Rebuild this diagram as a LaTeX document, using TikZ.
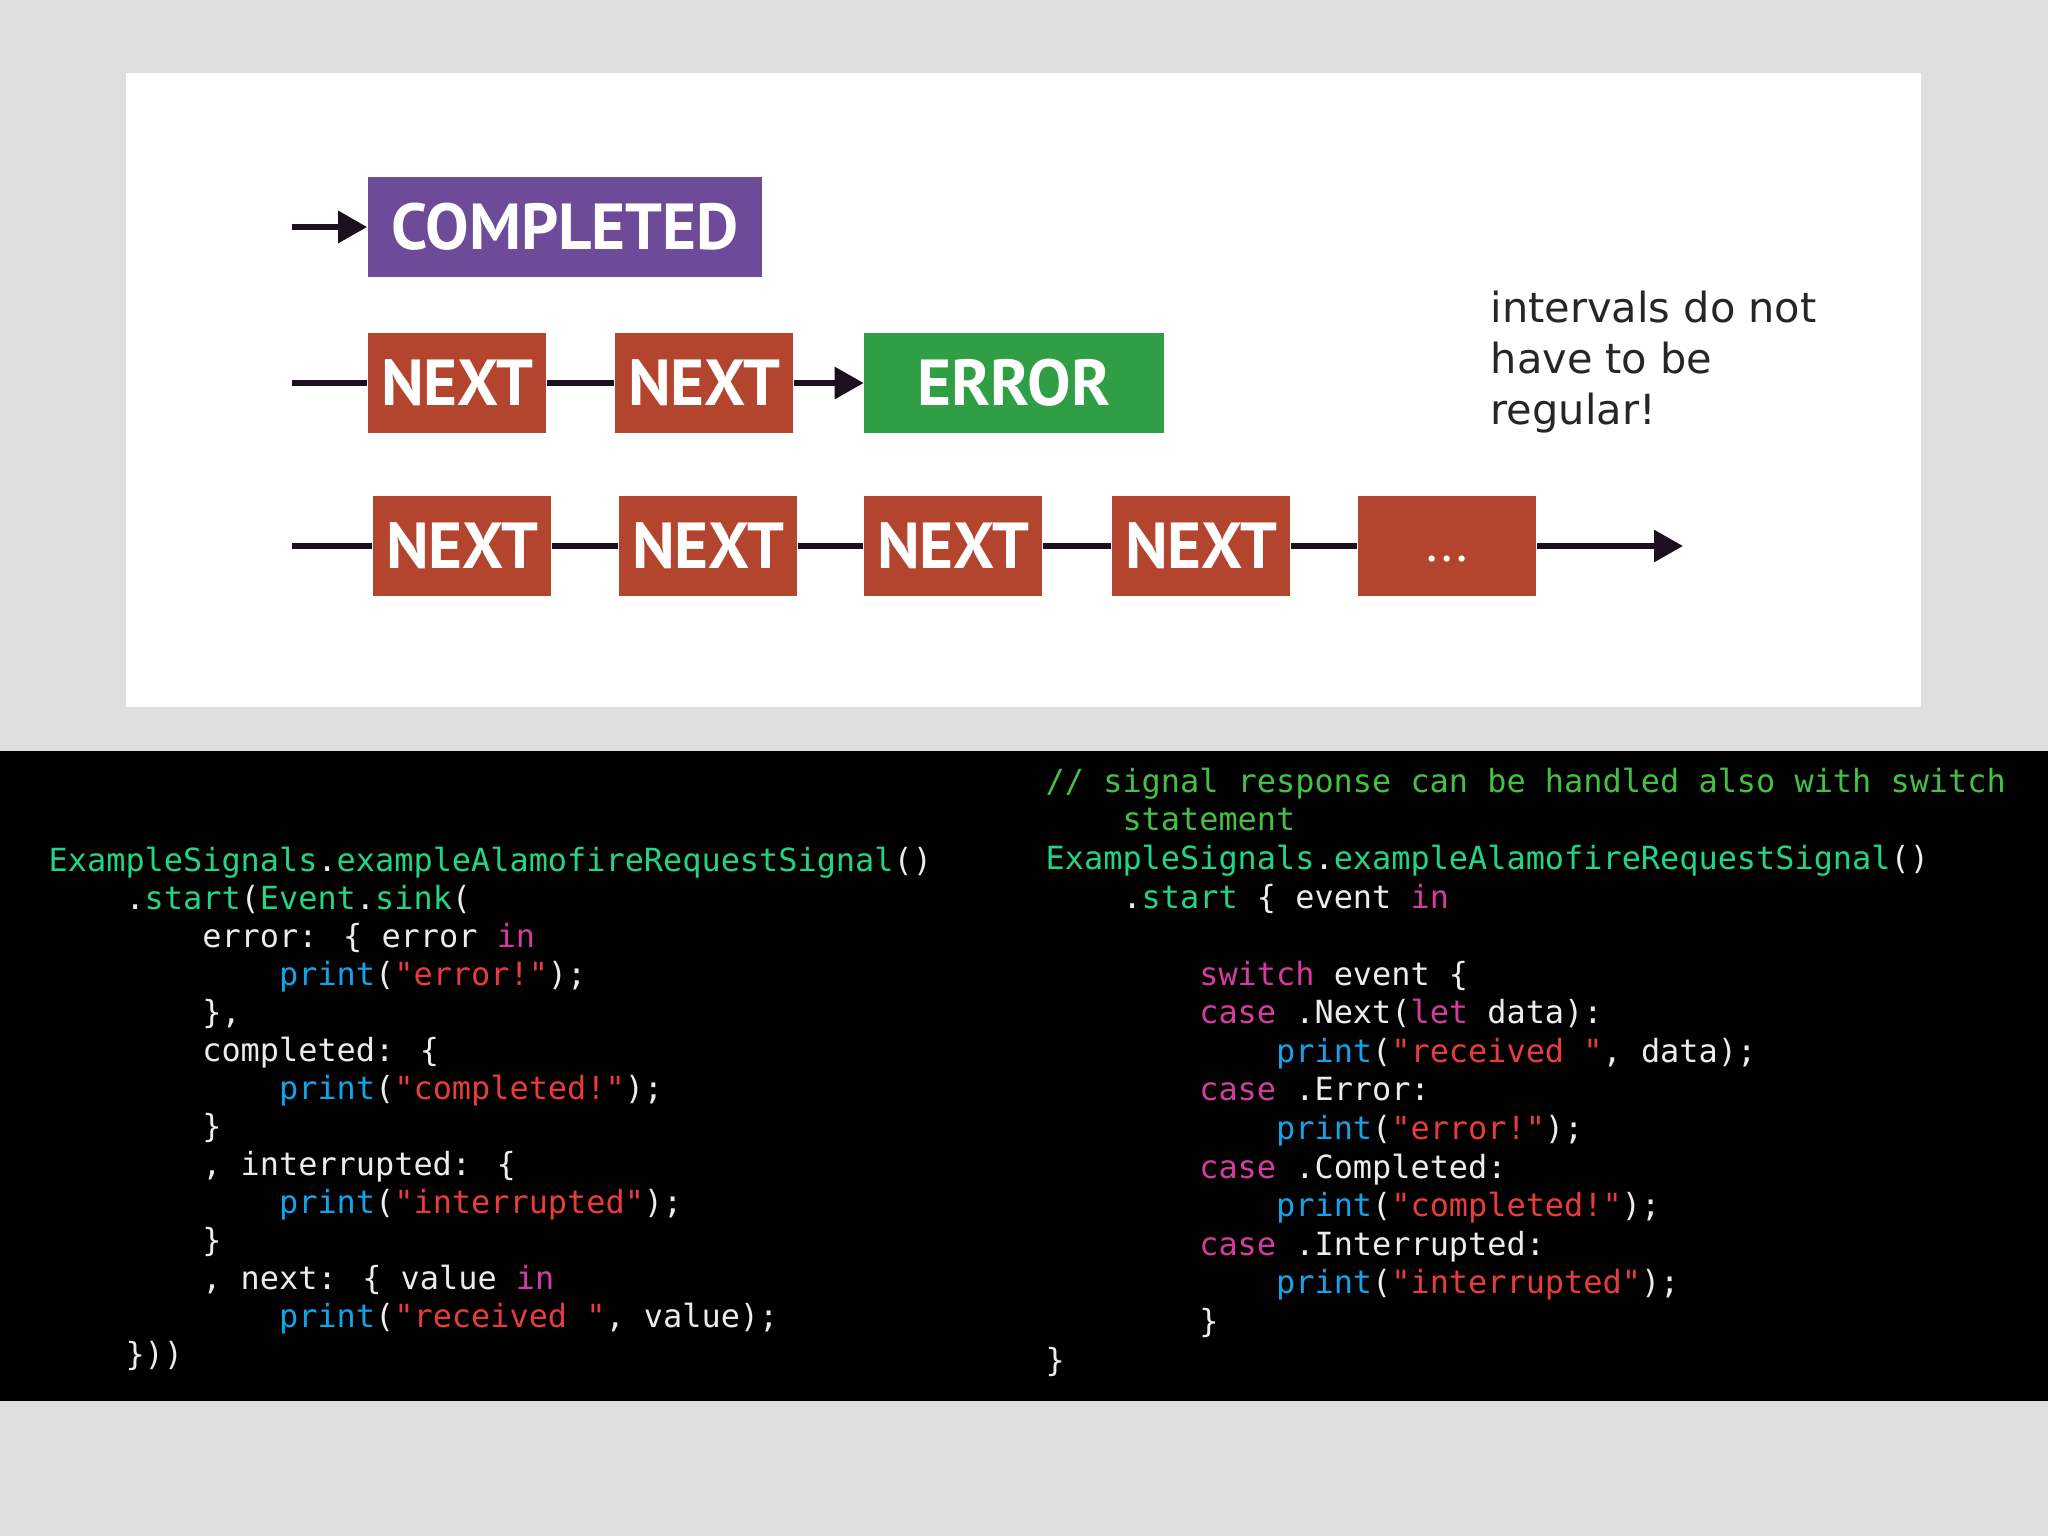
\documentclass[tikz,border=0pt]{standalone}
\usepackage{fontspec}
\newfontfamily\codefont{DejaVu Sans Mono}
\newfontfamily\notefont{DejaVu Sans}
\newfontfamily\boxfont{PT Sans}
\usepackage{xcolor}
\definecolor{fondoGris}{HTML}{DEDEDE}
\definecolor{linea}{HTML}{1C1020}
\definecolor{evPurple}{HTML}{6E4B99}
\definecolor{evRed}{HTML}{B3452F}
\definecolor{evGreen}{HTML}{2F9E45}
\definecolor{codeWhite}{HTML}{ECECEC}
\definecolor{codeGreen}{HTML}{22D585}
\definecolor{codeCmt}{HTML}{45BF45}
\definecolor{codeKw}{HTML}{D23C9E}
\definecolor{codeFn}{HTML}{14A2E8}
\definecolor{codeStr}{HTML}{E63C3C}
\newcommand{\pad}[1]{\hspace*{#1\fontcharwd\font`0}}
\newcommand{\clr}[1]{\textcolor{codeGreen}{#1}}
\newcommand{\cmt}[1]{\textcolor{codeCmt}{#1}}
\newcommand{\kw}[1]{\textcolor{codeKw}{#1}}
\newcommand{\fn}[1]{\textcolor{codeFn}{#1}}
\newcommand{\str}[1]{\textcolor{codeStr}{#1}}
\usetikzlibrary{arrows.meta,positioning}

\begin{document}
\begin{tikzpicture}[x=0.01cm,y=-0.01cm,
 ev/.style={inner sep=0pt,minimum height=0.99cm,text=white,
 font=\boxfont\bfseries\fontsize{18.5}{22}\selectfont},
 nxt/.style={ev,fill=evRed,minimum width=1.78cm},
 code/.style={inner sep=0pt,anchor=base west,align=left,text=codeWhite},
 wire/.style={draw=linea,line width=1.7pt},
 arr/.style={wire,-{Triangle[length=2.9mm,width=3.1mm]}}]
 \useasboundingbox (0,0) rectangle (2048,1536);
 \fill[fondoGris] (0,0) rectangle (2048,1536);
 \fill[white] (126,73) rectangle (1921,707);
 \fill[black] (0,751) rectangle (2048,1401);
 % event streams
 \node[ev,fill=evPurple,minimum width=3.94cm] (completed) at (565,227) {COMPLETED};
 \node[nxt] (a1) at (457,383) {NEXT};
 \node[nxt] (a2) at (704,383) {NEXT};
 \node[ev,fill=evGreen,minimum width=2.99cm] (err) at (1014,383) {ERROR};
 \node[nxt] (b1) at (462,546) {NEXT};
 \node[nxt] (b2) at (708,546) {NEXT};
 \node[nxt] (b3) at (953,546) {NEXT};
 \node[nxt] (b4) at (1201,546) {NEXT};
 \node[nxt] (more) at (1447,546)
 {\vphantom{N}{\mdseries\fontsize{15}{18}\selectfont\raisebox{2pt}{...}}};
 \coordinate (s1) at (292,227);
 \coordinate (s2) at (292,383);
 \coordinate (s3) at (292,546);
 \coordinate (e3) at (1683,546);
 \draw[arr] (s1)--(completed.west);
 \draw[wire] (s2)--(a1.west) (a1.east)--(a2.west);
 \draw[arr] (a2.east)--(err.west);
 \draw[wire] (s3)--(b1.west) (b1.east)--(b2.west) (b2.east)--(b3.west)
 (b3.east)--(b4.west) (b4.east)--(more.west);
 \draw[arr] (more.east)--(e3);
 \node[anchor=north west,inner sep=0pt,align=left,text=black!85,
 font=\notefont\fontsize{11.8}{14.5}\selectfont] (note) at (1490,290)
 {intervals do not\\have to be\\regular!};
 % code (anchored at the baseline of the last line)
 \node[code,font=\codefont\fontsize{9.07}{10.8}\selectfont] (sinkcode) at (48,1365)
 {\clr{ExampleSignals}.\clr{exampleAlamofireRequestSignal}()\\
 \pad{4}.\clr{start}(\clr{Event}.\clr{sink}(\\
 \pad{8}error: \{ error \kw{in}\\
 \pad{12}\fn{print}(\str{"error!"});\\
 \pad{8}\},\\
 \pad{8}completed: \{\\
 \pad{12}\fn{print}(\str{"completed!"});\\
 \pad{8}\}\\
 \pad{8}, interrupted: \{\\
 \pad{12}\fn{print}(\str{"interrupted"});\\
 \pad{8}\}\\
 \pad{8}, next: \{ value \kw{in}\\
 \pad{12}\fn{print}(\str{"received "}, value);\\
 \pad{4}\}))};
 \node[code,font=\codefont\fontsize{9.07}{10.97}\selectfont] (switchcode) at (1045,1371)
 {\cmt{// signal response can be handled also with switch}\\
 \pad{4}\cmt{statement}\\
 \clr{ExampleSignals}.\clr{exampleAlamofireRequestSignal}()\\
 \pad{4}.\clr{start} \{ event \kw{in}\\
 \mbox{}\\
 \pad{8}\kw{switch} event \{\\
 \pad{8}\kw{case} .Next(\kw{let} data):\\
 \pad{12}\fn{print}(\str{"received "}, data);\\
 \pad{8}\kw{case} .Error:\\
 \pad{12}\fn{print}(\str{"error!"});\\
 \pad{8}\kw{case} .Completed:\\
 \pad{12}\fn{print}(\str{"completed!"});\\
 \pad{8}\kw{case} .Interrupted:\\
 \pad{12}\fn{print}(\str{"interrupted"});\\
 \pad{8}\}\\
 \}};
\end{tikzpicture}
\end{document}
